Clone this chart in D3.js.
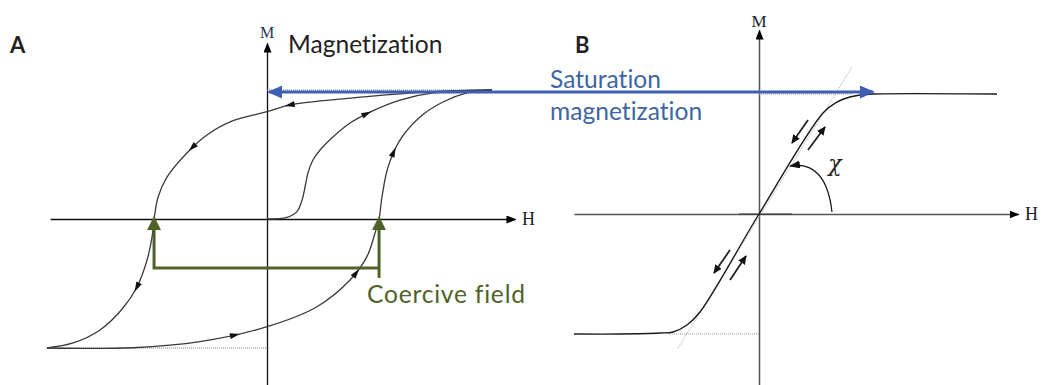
<!DOCTYPE html>
<html>
<head>
<meta charset="utf-8">
<script src="https://cdn.jsdelivr.net/npm/d3@7"></script>
<style>
body { margin: 0; background: #fff; }
text { font-variant-ligatures: none; font-feature-settings: "liga" 0; }
</style>
</head>
<body>
<div id="chart"></div>
<script>
/* Data: H in field units, M in units of saturation */
// panel A - hysteresis loop
var initA = [[0, 0], [0.089, 0.013], [0.133, 0.057], [0.156, 0.147], [0.169, 0.248], [0.182, 0.357],
	[0.204, 0.457], [0.236, 0.535], [0.293, 0.636], [0.369, 0.744], [0.458, 0.829], [0.591, 0.922],
	[0.738, 0.977], [1, 1]];
var downA = [[1, 1], [0.738, 0.987], [0.444, 0.948], [0.102, 0.884], [0, 0.832], [-0.151, 0.762],
	[-0.267, 0.651], [-0.356, 0.512], [-0.444, 0.326], [-0.484, 0.171], [-0.498, 0.047], [-0.502, 0],
	[-0.511, -0.14], [-0.533, -0.318], [-0.578, -0.527], [-0.64, -0.69], [-0.742, -0.86],
	[-0.862, -0.961], [-0.978, -1]];
var upA = [[-0.978, -1], [-0.596, -0.998], [-0.298, -0.951], [0, -0.835], [0.222, -0.68],
	[0.369, -0.473], [0.444, -0.292], [0.48, -0.109], [0.498, 0], [0.511, 0.171], [0.538, 0.403],
	[0.591, 0.612], [0.68, 0.791], [0.782, 0.907], [0.889, 0.977], [1, 1]];
var arrowsA = [
	{ curve: 'down', at: [0.102, 0.884] },
	{ curve: 'down', at: [-0.329, 0.55] },
	{ curve: 'down', at: [-0.578, -0.527] },
	{ curve: 'init', at: [0.444, 0.822] },
	{ curve: 'up', at: [-0.142, -0.891] },
	{ curve: 'up', at: [0.396, -0.419] },
	{ curve: 'up', at: [0.569, 0.512] }
];
var coerciveA = [-0.502, 0.498];
var bracketA = [-0.38, -0.457]; // bracket level, right tail
var axisA = { h: [-0.964, 1.102], m: [-1.287, 1.364] };

// panel B - anhysteretic curve
var curveB = [[-1.85, -1], [-1.39, -1], [-0.99, -0.992], [-0.86, -0.983], [-0.72, -0.925],
	[-0.59, -0.817], [0, 0], [0.64, 0.842], [0.78, 0.933], [0.91, 0.975], [1.01, 0.992],
	[1.14, 1], [2.38, 1]];
var tangentB = [[-0.81, -1.117], [0.93, 1.225]];
var pairsB = [
	[[0.49, 0.783], [0.33, 0.592]],
	[[0.49, 0.533], [0.66, 0.725]],
	[[-0.29, -0.3], [-0.45, -0.492]],
	[[-0.29, -0.55], [-0.13, -0.35]]
];
var chiArc = [[0.73, 0.017], [0.67, 0.45], [0.31, 0.4]];
var axisB = { h: [-1.85, 2.59], m: [-1.425, 1.533] };

// saturation arrow ends (A: H, B: H)
var satArrow = [0.01, 1.14];

var width = 1042;
var height = 385;

/* Scales */
var xA = d3.scaleLinear().domain([-1, 1]).range([42, 492]);
var yA = d3.scaleLinear().domain([-1, 1]).range([348, 90]);
var xB = d3.scaleLinear().domain([-1, 1]).range([659, 859]);
var yB = d3.scaleLinear().domain([-1, 1]).range([334, 94]);

var svg = d3
	.select('#chart')
	.append('svg')
	.attr('width', width)
	.attr('height', height)
	.style('font-family', 'Lato, "Open Sans", sans-serif');

/* Markers */
var defs = svg.append('defs');
function marker(id, path, refX, color, w, h) {
	defs
		.append('marker')
		.attr('id', id)
		.attr('markerUnits', 'userSpaceOnUse')
		.attr('viewBox', `0 ${-h} ${w} ${2 * h}`)
		.attr('markerWidth', w)
		.attr('markerHeight', 2 * h)
		.attr('refX', refX)
		.attr('refY', 0)
		.attr('orient', 'auto-start-reverse')
		.append('path')
		.attr('d', path)
		.attr('fill', color);
}
marker('axis', 'M0,-4L10,0L0,4Z', 9, '#000', 10, 4);
marker('pair', 'M0,-4L9,0L0,4Z', 8, '#111', 9, 4);
marker('chi', 'M0,-4L11,0L0,4Z', 10, '#111', 11, 4);
marker('blue', 'M0,-6.5L15,0L0,6.5Z', 13, '#3f5fb5', 15, 6.5);
marker('green', 'M0,-7L14,0L0,7Z', 11, '#4f6228', 14, 7);

/* Axes */
function axes(x, y, ext, color, sw) {
	var hs = x.copy().domain(ext.h).range(ext.h.map(x));
	var ms = y.copy().domain(ext.m).range(ext.m.map(y));
	var gx = svg
		.append('g')
		.attr('transform', `translate(0, ${y(0)})`)
		.call(d3.axisBottom(hs).ticks(0).tickSizeOuter(0));
	var gy = svg
		.append('g')
		.attr('transform', `translate(${x(0)}, 0)`)
		.call(d3.axisLeft(ms).ticks(0).tickSizeOuter(0));
	[gx, gy].forEach(function(g) {
		g.select('.domain')
			.attr('stroke', color)
			.attr('stroke-width', sw)
			.attr('marker-end', 'url(#axis)');
	});
}
axes(xA, yA, axisA, '#111', 1.3);
axes(xB, yB, axisB, '#555', 1.5);

/* Dotted guide lines */
var hline = d3.line().x(d => d[0]).y(d => d[1]);
function dotted(pts, color) {
	svg
		.append('path')
		.attr('d', hline(pts))
		.attr('fill', 'none')
		.attr('stroke', color)
		.attr('stroke-width', 1)
		.attr('stroke-dasharray', '1,1');
}
dotted([[xA(0), yA(1)], [xA(1), yA(1)]], '#777');
dotted([[xA(-0.978), yA(-1)], [xA(0), yA(-1)]], '#777');
dotted([[xB(-0.89), yB(-1)], [xB(0), yB(-1)]], '#999');
dotted([[xB(0), yB(1)], [xB(0.94), yB(1)]], '#999');
dotted(tangentB.map(d => [xB(d[0]), yB(d[1])]), '#aaa');

/* Curves */
var lineA = d3
	.line()
	.x(d => xA(d[0]))
	.y(d => yA(d[1]))
	.curve(d3.curveCatmullRom);
var lineB = d3
	.line()
	.x(d => xB(d[0]))
	.y(d => yB(d[1]))
	.curve(d3.curveCatmullRom);

var curvesA = {};
[['init', initA], ['down', downA], ['up', upA]].forEach(function(c) {
	curvesA[c[0]] = svg
		.append('path')
		.attr('d', lineA(c[1]))
		.attr('fill', 'none')
		.attr('stroke', '#3a3a3a')
		.attr('stroke-width', 1.3)
		.node();
});

svg
	.append('path')
	.attr('d', lineB(curveB))
	.attr('fill', 'none')
	.attr('stroke', '#1a1a1a')
	.attr('stroke-width', 1.4);

// short dark stroke on the H axis round the origin
svg
	.append('path')
	.attr('d', hline([[xB(-0.2), yB(0)], [xB(0.33), yB(0)]]))
	.attr('stroke', '#333')
	.attr('stroke-width', 1.2);

/* Direction arrowheads on loop branches */
arrowsA.forEach(function(a) {
	var node = curvesA[a.curve];
	var total = node.getTotalLength();
	var px = xA(a.at[0]);
	var py = yA(a.at[1]);
	var best = 0;
	var bestD = Infinity;
	for (var l = 0; l <= total; l += 1) {
		var p = node.getPointAtLength(l);
		var dd = (p.x - px) * (p.x - px) + (p.y - py) * (p.y - py);
		if (dd < bestD) {
			bestD = dd;
			best = l;
		}
	}
	var p0 = node.getPointAtLength(Math.max(0, best - 3));
	var p1 = node.getPointAtLength(Math.min(total, best + 3));
	var pc = node.getPointAtLength(best);
	var ang = (Math.atan2(p1.y - p0.y, p1.x - p0.x) * 180) / Math.PI;
	svg
		.append('path')
		.attr('d', 'M5,0L-5,-3L-5,3Z')
		.attr('fill', '#111')
		.attr('transform', `translate(${pc.x},${pc.y}) rotate(${ang})`);
});

/* Paired arrows along the linear part in B */
pairsB.forEach(function(s) {
	svg
		.append('path')
		.attr('d', hline(s.map(d => [xB(d[0]), yB(d[1])])))
		.attr('stroke', '#222')
		.attr('stroke-width', 1.8)
		.attr('marker-end', 'url(#pair)');
});

/* Susceptibility angle */
var arc = d3.path();
arc.moveTo(xB(chiArc[0][0]), yB(chiArc[0][1]));
arc.quadraticCurveTo(xB(chiArc[1][0]), yB(chiArc[1][1]), xB(chiArc[2][0]), yB(chiArc[2][1]));
svg
	.append('path')
	.attr('d', arc.toString())
	.attr('fill', 'none')
	.attr('stroke', '#111')
	.attr('stroke-width', 1.2)
	.attr('marker-end', 'url(#chi)');

svg
	.append('text')
	.attr('x', xB(0.76))
	.attr('y', yB(0.36))
	.attr('text-anchor', 'middle')
	.style('font-family', '"DejaVu Serif", "Liberation Serif", serif')
	.style('font-style', 'italic')
	.style('font-size', '22px')
	.attr('fill', '#222')
	.text('χ');

/* Coercive field bracket */
var green = '#4f6228';
svg
	.append('path')
	.attr('d', hline([[xA(coerciveA[1]), yA(bracketA[1])], [xA(coerciveA[1]), yA(0)]]))
	.attr('fill', 'none')
	.attr('stroke', green)
	.attr('stroke-width', 3)
	.attr('marker-end', 'url(#green)');
svg
	.append('path')
	.attr('d', hline([[xA(coerciveA[1]), yA(bracketA[0])], [xA(coerciveA[0]), yA(bracketA[0])], [xA(coerciveA[0]), yA(0)]]))
	.attr('fill', 'none')
	.attr('stroke', green)
	.attr('stroke-width', 3)
	.attr('stroke-linejoin', 'miter')
	.attr('marker-end', 'url(#green)');

/* Saturation magnetization arrow */
var satY = (yA(1) + yB(1)) / 2;
svg
	.append('path')
	.attr('d', hline([[xA(satArrow[0]), satY], [xB(satArrow[1]), satY]]))
	.attr('stroke', '#3f5fb5')
	.attr('stroke-width', 3)
	.attr('marker-start', 'url(#blue)')
	.attr('marker-end', 'url(#blue)');

/* Labels */
function label(txt, x, y, size, color, opts) {
	opts = opts || {};
	return svg
		.append('text')
		.attr('x', x)
		.attr('y', y)
		.attr('text-anchor', opts.anchor || 'start')
		.style('font-size', size + 'px')
		.style('font-weight', opts.weight || 'normal')
		.style('font-family', opts.family || null)
		.attr('fill', color)
		.text(txt);
}
var serif = '"Liberation Serif", "Times New Roman", serif';
label('A', 10, 53, 22, '#222', { weight: 'bold' });
label('B', 575, 53, 22, '#222', { weight: 'bold' });
label('M', xA(0), 38, 16, '#1d3557', { anchor: 'middle', family: serif });
label('M', xB(0), 27, 17, '#222', { anchor: 'middle', family: serif });
label('H', xA(axisA.h[1]) + 7, yA(0) + 6, 18, '#222', { family: serif });
label('H', xB(axisB.h[1]) + 7, yB(0) + 6, 18, '#222', { family: serif });
label('Magnetization', 288, 53, 24.6, '#222');
label('Saturation', 550, 88, 24.6, '#3e66a3');
label('magnetization', 550, 120, 24.6, '#3e66a3');
label('Coercive field', 367, 303, 24.6, green).attr('textLength', 158).attr('lengthAdjust', 'spacing');
</script>
</body>
</html>
